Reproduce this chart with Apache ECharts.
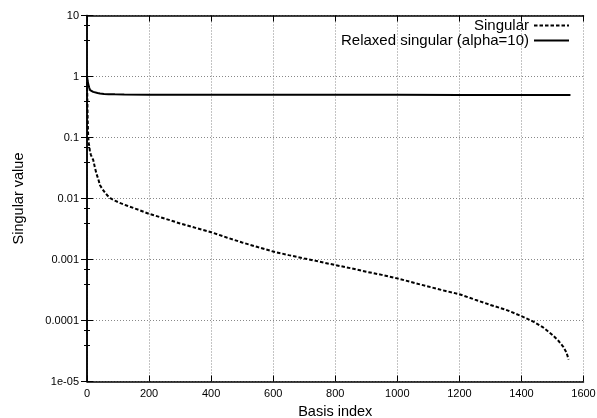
<!DOCTYPE html>
<html>
<head>
<meta charset="utf-8">
<script src="https://cdn.jsdelivr.net/npm/echarts@6/dist/echarts.min.js"></script>
<style>html,body{margin:0;padding:0;background:#fff}#c{width:597px;height:418px}</style>
</head>
<body>
<div id="c"></div>
<script>
var singularX = [0,1,2,3,4,6,9,12,16,20,25,30,36,42,50,58,66,75,90,110,130,160,200,250,300,350,400,450,500,550,600,650,700,750,800,850,900,950,1000,1050,1100,1150,1200,1250,1300,1350,1400,1440,1470,1500,1520,1535,1545,1552];
var singularY = [1.0,0.45,0.22,0.14,0.1,0.08,0.062,0.053,0.047,0.043,0.033,0.026,0.021,0.0165,0.0142,0.0125,0.0112,0.0101,0.0092,0.0083,0.0076,0.0067,0.0056,0.0047,0.0039,0.0033,0.0028,0.0023,0.0019,0.0016,0.00135,0.00118,0.00104,0.00092,0.00081,0.00072,0.00063,0.00056,0.00049,0.00042,0.00036,0.00031,0.00027,0.00022,0.00018,0.00015,0.000118,0.000095,0.000077,0.000058,0.000046,0.000037,0.00003,0.000023];
var relaxedX = [0,2,4,7,10,15,20,26,34,42,55,70,90,120,200,400,600,800,1000,1200,1400,1558];
var relaxedY = [1.0,0.85,0.75,0.66,0.6,0.575,0.56,0.545,0.535,0.525,0.518,0.513,0.51,0.507,0.504,0.502,0.501,0.5,0.5,0.499,0.499,0.498];
var seriesNames = ['Singular', 'Relaxed singular (alpha=10)'];
var xTicks = [0,200,400,600,800,1000,1200,1400,1600];
var yTickLabels = {'10':'10','1':'1','0.1':'0.1','0.01':'0.01','0.001':'0.001','0.0001':'0.0001','0.00001':'1e-05'};

function pairs(xs, ys){ return xs.map(function(x,i){ return [x, ys[i]]; }); }

var font = 'Liberation Sans, Arial, sans-serif';
var chart = echarts.init(document.getElementById('c'), null, {renderer:'canvas'});
var gridLine = {show:true, lineStyle:{color:'#888', type:[1,2], width:1}};
chart.setOption({
  animation:false,
  backgroundColor:'#fff',
  grid:{left:87, right:13.5, top:15.5, bottom:36.5, containLabel:false, outerBoundsMode:'none'},
  legend:{
    orient:'vertical', right:22, top:13, align:'right',
    itemWidth:35, itemHeight:10, itemGap:0,
    itemStyle:{opacity:0, borderWidth:0},
    textStyle:{fontFamily:font, fontSize:15, color:'#000', lineHeight:15},
    data:seriesNames
  },
  xAxis:[{
    type:'value', min:xTicks[0], max:xTicks[xTicks.length-1], interval:xTicks[1]-xTicks[0],
    name:'Basis index', nameLocation:'middle', nameGap:23,
    nameTextStyle:{fontFamily:font, fontSize:14.5, color:'#000'},
    axisLine:{show:true, onZero:false, lineStyle:{color:'#000', width:1.5}},
    axisTick:{show:true, inside:true, length:6, lineStyle:{color:'#000'}},
    axisLabel:{fontFamily:font, fontSize:11, color:'#000', margin:7,
      formatter:function(v){ return String(v); }},
    splitLine:gridLine
  },{
    type:'value', min:xTicks[0], max:xTicks[xTicks.length-1], interval:xTicks[1]-xTicks[0], position:'top',
    axisLine:{show:true, onZero:false, lineStyle:{color:'#000', width:1.5}},
    axisTick:{show:true, inside:true, length:6, lineStyle:{color:'#000'}},
    axisLabel:{show:false}, splitLine:{show:false}
  }],
  yAxis:[{
    type:'log', logBase:10, min:1e-5, max:10,
    name:'Singular value', nameLocation:'middle', nameGap:61,
    nameTextStyle:{fontFamily:font, fontSize:14.5, color:'#000'},
    axisLine:{show:true, lineStyle:{color:'#000', width:1.5}},
    axisTick:{show:true, inside:true, length:6, lineStyle:{color:'#000'}},
    minorTick:{show:true, splitNumber:3, length:3, lineStyle:{color:'#000'}},
    axisLabel:{fontFamily:font, fontSize:11, color:'#000', margin:8,
      formatter:function(v){
        var k = Math.round(Math.log10(v));
        var key = k >= 0 ? String(Math.pow(10,k)) : (k === -5 ? '0.00001' : Math.pow(10,k).toFixed(-k));
        return yTickLabels[key] !== undefined ? yTickLabels[key] : String(v);
      }},
    splitLine:gridLine
  },{
    type:'log', logBase:10, min:1e-5, max:10, position:'right',
    axisLine:{show:true, lineStyle:{color:'#000', width:1.5}},
    axisTick:{show:true, inside:true, length:6, lineStyle:{color:'#000'}},
    minorTick:{show:true, splitNumber:3, length:3, lineStyle:{color:'#000'}},
    axisLabel:{show:false}, splitLine:{show:false}
  }],
  series:[{
    name:seriesNames[0], type:'line', symbol:'none', xAxisIndex:0, yAxisIndex:0,
    lineStyle:{color:'#000', width:2, type:[3.5,2]},
    itemStyle:{color:'#000'},
    data:pairs(singularX, singularY)
  },{
    name:seriesNames[1], type:'line', symbol:'none', xAxisIndex:0, yAxisIndex:0,
    lineStyle:{color:'#000', width:2, type:'solid'},
    itemStyle:{color:'#000'},
    data:pairs(relaxedX, relaxedY)
  }]
});
</script>
</body>
</html>
